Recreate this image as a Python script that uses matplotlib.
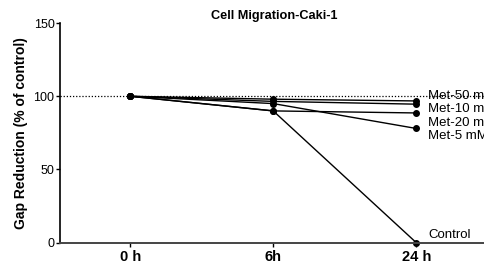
import matplotlib
matplotlib.use("Agg")
import matplotlib.pyplot as plt

plt.rcParams["font.family"] = ["Liberation Sans", "DejaVu Sans"]

time_labels = ["0 h", "6h", "24 h"]
series_names = ["Met-50 mM", "Met-10 mM", "Met-20 mM", "Met-5 mM", "Control"]
met50 = [100, 98, 96.8]
met10 = [100, 96.5, 94.6]
met20 = [100, 90, 88.6]
met5 = [100, 95, 78]
control = [100, 90, 0]
# label y-positions (data units) at the right end of each line
label_y = [100.5, 91.5, 82, 73, 5.5]

fig = plt.figure(figsize=(4.84, 2.64), dpi=100)
ax = fig.add_axes([0.124, 0.0807, 0.884, 0.832])

x = list(range(len(time_labels)))
for vals in [met50, met10, met20, met5, control]:
    ax.plot(x, vals, color="black", lw=1.0, marker="o", ms=4, clip_on=False)

ax.axhline(100, color="black", lw=0.9, ls=(0, (1, 1.5)), zorder=0)

# labels run off the right edge as in the original figure
for name, yl in zip(series_names, label_y):
    ax.text(2.085, yl, name, fontsize=9.5, va="center", ha="left", clip_on=False)

ax.set_xlim(-0.49, 2.5)
ax.set_ylim(0, 150)
ax.set_yticks([0, 50, 100, 150])
ax.set_xticks(x)
ax.set_xticklabels(time_labels, fontsize=10.5, fontweight="bold")
ax.tick_params(axis="y", labelsize=9, length=3, width=1, pad=1)
ax.tick_params(axis="x", length=3, width=1, pad=2)

for s in ["top", "right"]:
    ax.spines[s].set_visible(False)
ax.spines["left"].set_linewidth(1.2)
ax.spines["bottom"].set_linewidth(1.4)
ax.spines["bottom"].set_color("#444444")

ax.set_ylabel("Gap Reduction (% of control)", fontsize=10, fontweight="bold", labelpad=4)
ax.set_title("Cell Migration-Caki-1", fontsize=9.2, fontweight="bold", pad=3)

fig.savefig("out.png", dpi=100)
